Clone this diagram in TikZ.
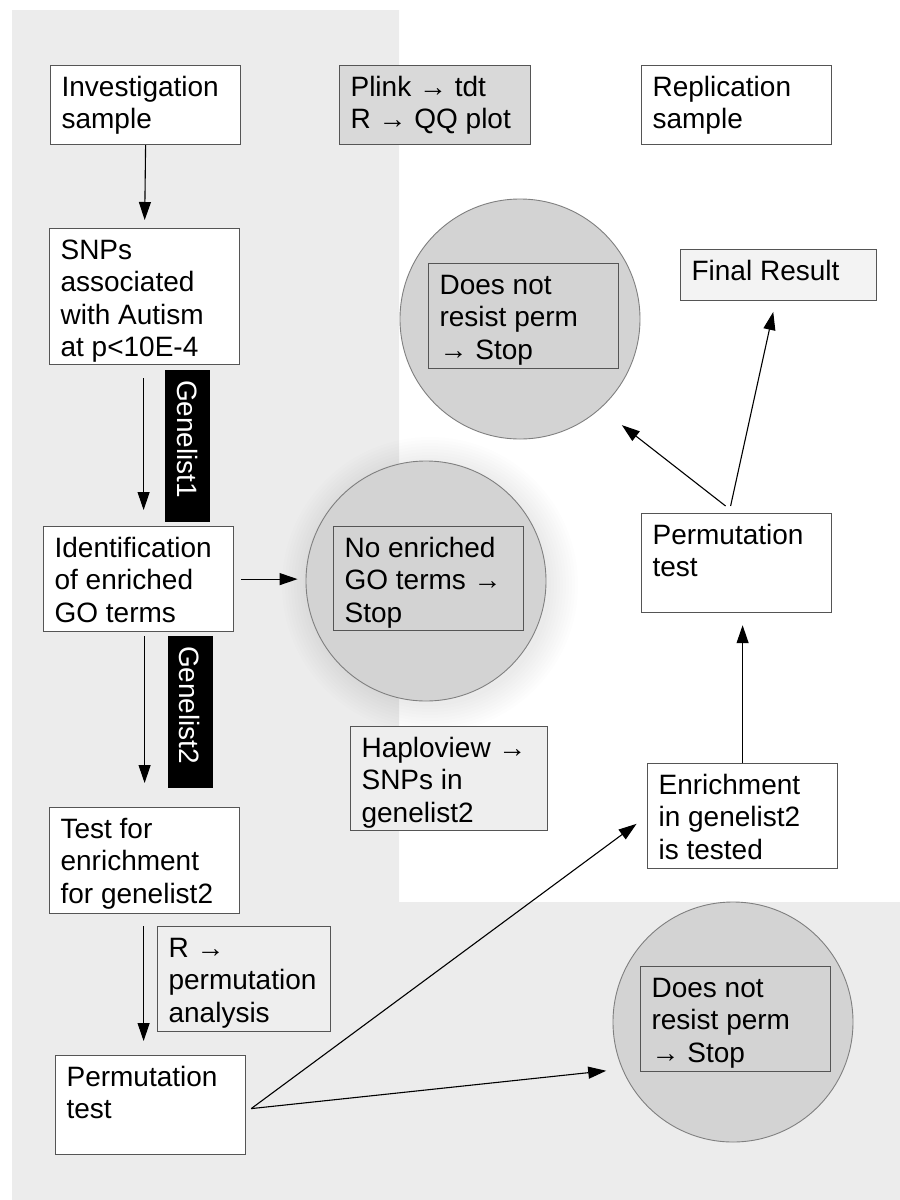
\documentclass[tikz,border=0pt]{standalone}
\usepackage{fontspec}
\setmainfont{Liberation Sans}
\usetikzlibrary{arrows.meta,calc}
\definecolor{bord}{HTML}{555555}
\definecolor{circfill}{HTML}{D3D3D3}
\definecolor{circline}{HTML}{7F7F7F}
\definecolor{plinkfill}{HTML}{D9D9D9}
\definecolor{lightfill}{HTML}{EEEEEE}
\definecolor{finalfill}{HTML}{F3F3F3}
\definecolor{bgc}{HTML}{ECECEC}
\newcommand\bt[3]{\parbox[c][#2][t]{#1}{\vspace*{8.6pt}\raggedright\leftskip=11pt\strut #3}}
\tikzset{
  bx/.style={draw=bord, line width=1.2pt, inner sep=0pt, anchor=north west},
  circ/.style={circle, draw=circline, line width=0.9pt, fill=circfill, minimum size=240pt, inner sep=0pt},
  gl/.style={fill=black, text=white, rotate=-90, minimum height=45pt, text width=132pt, inner xsep=10pt, inner ysep=0pt, align=left},
  arr/.style={-{Triangle[length=18pt,width=12pt]}, line width=1.1pt, black}
}
\begin{document}
\begin{tikzpicture}[x=1pt,y=-1pt,font=\fontsize{28}{32.2}\selectfont]
\useasboundingbox (0,0) rectangle (900,1200);
% background
\fill[bgc] (12,10) -- (399,10) -- (399,902) -- (900,902) -- (900,1200) -- (12,1200) -- cycle;
% halo around middle circle
\foreach \r in {121,124,...,148} \fill[black, opacity=0.009] (430,585) circle (\r pt);

% boxes
\node[bx, fill=white] (inv) at (50,65) {\bt{190pt}{79pt}{Investigation\\sample}};
\node[bx, fill=plinkfill] (plink) at (339,65) {\bt{191pt}{79pt}{Plink → tdt\\R → QQ plot}};
\node[bx, fill=white] (repl) at (641,65) {\bt{190pt}{79pt}{Replication\\sample}};
\node[bx, fill=white] (snps) at (49,228) {\bt{190pt}{136pt}{SNPs\\associated\\with Autism\\at p<10E-4}};
\node[bx, fill=finalfill] (final) at (680,249) {\bt{196pt}{51pt}{Final Result}};
\node[bx, fill=white] (ident) at (43,526) {\bt{190pt}{105pt}{Identification\\of enriched\\GO terms}};
\node[bx, fill=white] (perm2) at (641,513) {\bt{190pt}{99pt}{Permutation\\test}};
\node[bx, fill=lightfill] (haplo) at (350,726) {\bt{197pt}{104pt}{Haploview →\\SNPs in\\genelist2}};
\node[bx, fill=white] (enrich) at (647,763) {\bt{190pt}{105pt}{Enrichment\\in genelist2\\is tested}};
\node[bx, fill=white] (test) at (49,807) {\bt{190pt}{106pt}{Test for\\enrichment\\for genelist2}};
\node[bx, fill=lightfill] (rperm) at (157,926) {\bt{173pt}{105pt}{R →\\permutation\\analysis}};
\node[bx, fill=white] (perm1) at (55,1055) {\bt{190pt}{99pt}{Permutation\\test}};

% circles
\node[circ] (c1) at (520,319) {};
\node[bx, fill=circfill] (c1t) at (428,263) {\bt{190pt}{105pt}{Does not\\resist perm\\→ Stop}};
\node[circ] (c2) at (426,581) {};
\node[bx, fill=circfill] (c2t) at (333,526) {\bt{190pt}{104pt}{No enriched\\GO terms →\\Stop}};
\node[circ] (c3) at (733,1022) {};
\node[bx, fill=circfill] (c3t) at (640,966) {\bt{190pt}{105pt}{Does not\\resist perm\\→ Stop}};

% genelist labels
\node[gl] (g1) at (187.5,446) {Genelist1};
\node[gl] (g2) at (190,712) {Genelist2};

% connectors
\draw[arr, shorten >=8pt] (inv.south) -- (snps.north);
\draw[arr, shorten <=13pt, shorten >=16pt] ([xshift=-1pt]snps.south) -- ([xshift=-1pt]snps.south |- ident.north);
\draw[arr, shorten <=7pt, shorten >=8pt] (ident.east) -- (ident.east -| c2.west);
\draw[arr, shorten <=4pt, shorten >=24pt] ([xshift=6pt]ident.south) -- ([xshift=6pt]ident.south |- test.north);
\draw[arr, shorten <=12pt, shorten >=14pt] ([xshift=-1pt]test.south) -- ([xshift=-1pt]test.south |- perm1.north);
\coordinate (p1out) at ($(perm1.east)+(5,3.5)$);
\draw[arr, shorten >=13pt] (p1out) -- (enrich.west);
\draw[arr, shorten >=16pt] (p1out) -- (c3.203);
\draw[arr, shorten >=12pt] (enrich.north) -- (enrich.north |- perm2.south);
\coordinate (p2a) at ($(perm2.north)+(-11,-7)$);
\coordinate (p2b) at ($(perm2.north)+(-6,-7)$);
\draw[arr, shorten >=27pt] (p2a) -- (c1.312);
\draw[arr, shorten >=11pt] (p2b) -- ([xshift=-3pt]final.south);
\end{tikzpicture}
\end{document}
